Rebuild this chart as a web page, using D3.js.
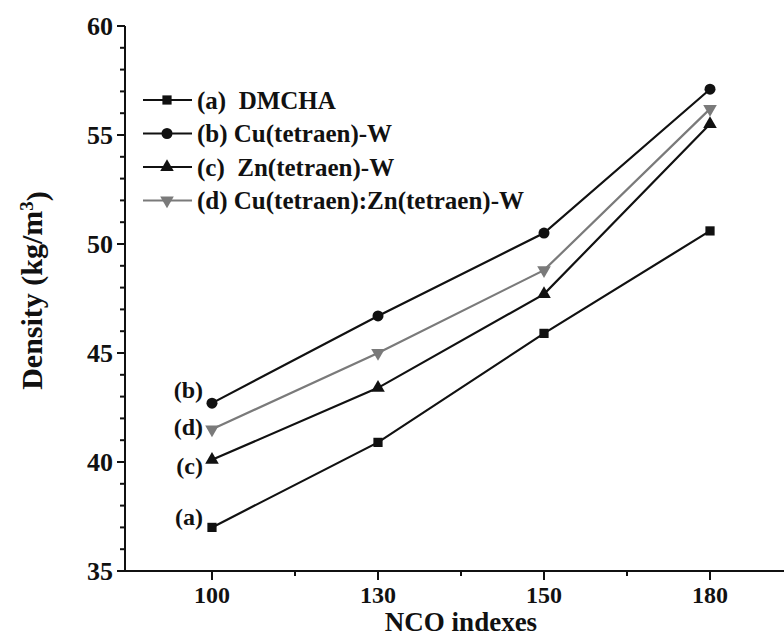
<!DOCTYPE html>
<html>
<head>
<meta charset="utf-8">
<script src="https://cdn.jsdelivr.net/npm/d3@7"></script>
<style>
  html, body { margin: 0; padding: 0; background: #fff; }
  svg { display: block; }
  text { font-family: "Liberation Serif", "Times New Roman", serif; font-weight: bold; fill: #111; }
</style>
</head>
<body>
<svg id="chart" width="784" height="638"></svg>
<script>
// NCO index categories on the x axis
const ncoIndexes = ["100", "130", "150", "180"];

// Foam density (kg/m3) for each catalyst system
const densityDMCHA  = [37.0, 40.9, 45.9, 50.6];
const densityCuW    = [42.7, 46.7, 50.5, 57.1];
const densityZnW    = [40.1, 43.4, 47.7, 55.5];
const densityCuZnW  = [41.5, 45.0, 48.8, 56.2];

const seriesNames  = ["(a)  DMCHA", "(b) Cu(tetraen)-W", "(c)  Zn(tetraen)-W", "(d) Cu(tetraen):Zn(tetraen)-W"];
const seriesTags   = ["(a)", "(b)", "(c)", "(d)"];

const yMajorTicks = [35, 40, 45, 50, 55, 60];

const series = [
  { name: seriesNames[0], tag: seriesTags[0], values: densityDMCHA, symbol: d3.symbolSquare,   color: "#111", tagDy: -11 },
  { name: seriesNames[1], tag: seriesTags[1], values: densityCuW,   symbol: d3.symbolCircle,   color: "#111", tagDy: -14 },
  { name: seriesNames[2], tag: seriesTags[2], values: densityZnW,   symbol: d3.symbolTriangle, color: "#111", tagDy: 6 },
  { name: seriesNames[3], tag: seriesTags[3], values: densityCuZnW, symbol: "down",           color: "#7a7a7a", tagDy: -3 }
];

const svg = d3.select("#chart");

const x = d3.scalePoint().domain(ncoIndexes).range([125, 797]).padding(0.524);
const y = d3.scaleLinear().domain([35, 60]).range([571, 26]);

// ---- axes ----
const axisColor = "#111";

// y axis with minor ticks every unit
const yAxisG = svg.append("g").attr("transform", "translate(125,0)");
yAxisG.append("line").attr("x1", 0).attr("x2", 0).attr("y1", y(60)).attr("y2", y(35))
  .attr("stroke", axisColor).attr("stroke-width", 2);
d3.range(35, 61, 1).forEach(v => {
  const major = v % 5 === 0;
  yAxisG.append("line").attr("x1", major ? -8 : -5).attr("x2", 0)
    .attr("y1", y(v)).attr("y2", y(v)).attr("stroke", axisColor).attr("stroke-width", 2);
});
yAxisG.selectAll("text.ytick").data(yMajorTicks).join("text")
  .attr("class", "ytick")
  .attr("x", -12).attr("y", d => y(d)).attr("dy", "0.35em")
  .attr("text-anchor", "end").style("font-size", "26px")
  .text(d => d);

// x axis with minor ticks midway between categories
const xAxisG = svg.append("g").attr("transform", `translate(0,${y(35)})`);
xAxisG.append("line").attr("x1", 124).attr("x2", 784).attr("y1", 0).attr("y2", 0)
  .attr("stroke", axisColor).attr("stroke-width", 2);
ncoIndexes.forEach((c, i) => {
  xAxisG.append("line").attr("x1", x(c)).attr("x2", x(c)).attr("y1", 0).attr("y2", 9)
    .attr("stroke", axisColor).attr("stroke-width", 2);
  if (i < ncoIndexes.length - 1) {
    const mx = (x(c) + x(ncoIndexes[i + 1])) / 2;
    xAxisG.append("line").attr("x1", mx).attr("x2", mx).attr("y1", 0).attr("y2", 5)
      .attr("stroke", axisColor).attr("stroke-width", 2);
  }
});
xAxisG.selectAll("text.xtick").data(ncoIndexes).join("text")
  .attr("class", "xtick")
  .attr("x", d => x(d)).attr("y", 32)
  .attr("text-anchor", "middle").style("font-size", "24px")
  .text(d => d);

// axis titles
svg.append("text")
  .attr("x", (x(ncoIndexes[0]) + x(ncoIndexes[3])) / 2).attr("y", 631)
  .attr("text-anchor", "middle").style("font-size", "27px")
  .text("NCO indexes");

const yTitle = svg.append("text")
  .attr("transform", `translate(42,${(y(35) + y(60)) / 2 - 8}) rotate(-90)`)
  .attr("text-anchor", "middle").style("font-size", "30px");
yTitle.append("tspan").text("Density (kg/m");
yTitle.append("tspan").attr("dy", "-0.45em").style("font-size", "19px").text("3");
yTitle.append("tspan").attr("dy", "0.45em").text(")");

// ---- markers ----
function markerPath(sym, size) {
  if (sym === "down") {
    return d3.symbol().type(d3.symbolTriangle).size(size)();
  }
  return d3.symbol().type(sym).size(size)();
}
function drawMarker(g, s, cx, cy) {
  const size = s.symbol === d3.symbolCircle ? 95 : (s.symbol === d3.symbolSquare ? 85 : 80);
  g.append("path")
    .attr("d", markerPath(s.symbol, size))
    .attr("transform", `translate(${cx},${cy})` + (s.symbol === "down" ? " rotate(180)" : ""))
    .attr("fill", s.color);
}

// ---- lines ----
const line = d3.line().x((d, i) => x(ncoIndexes[i])).y(d => y(d));
series.forEach(s => {
  svg.append("path").datum(s.values)
    .attr("d", line).attr("fill", "none")
    .attr("stroke", s.color).attr("stroke-width", 2.2);
  const g = svg.append("g");
  s.values.forEach((v, i) => drawMarker(g, s, x(ncoIndexes[i]), y(v)));
  // tag next to the first point
  svg.append("text")
    .attr("x", x(ncoIndexes[0]) - 9).attr("y", y(s.values[0]) + s.tagDy).attr("dy", "0.35em")
    .attr("text-anchor", "end").style("font-size", "24px")
    .text(s.tag);
});

// ---- legend ----
const legend = svg.append("g");
series.forEach((s, i) => {
  const ly = 100 + i * 33.5;
  legend.append("line").attr("x1", 143).attr("x2", 192).attr("y1", ly).attr("y2", ly)
    .attr("stroke", s.color).attr("stroke-width", 2.2);
  drawMarker(legend, s, 167, ly);
  legend.append("text").attr("x", 197).attr("y", ly).attr("dy", "0.35em")
    .style("font-size", "25px").attr("xml:space", "preserve").style("white-space", "pre")
    .text(s.name);
});
</script>
</body>
</html>
